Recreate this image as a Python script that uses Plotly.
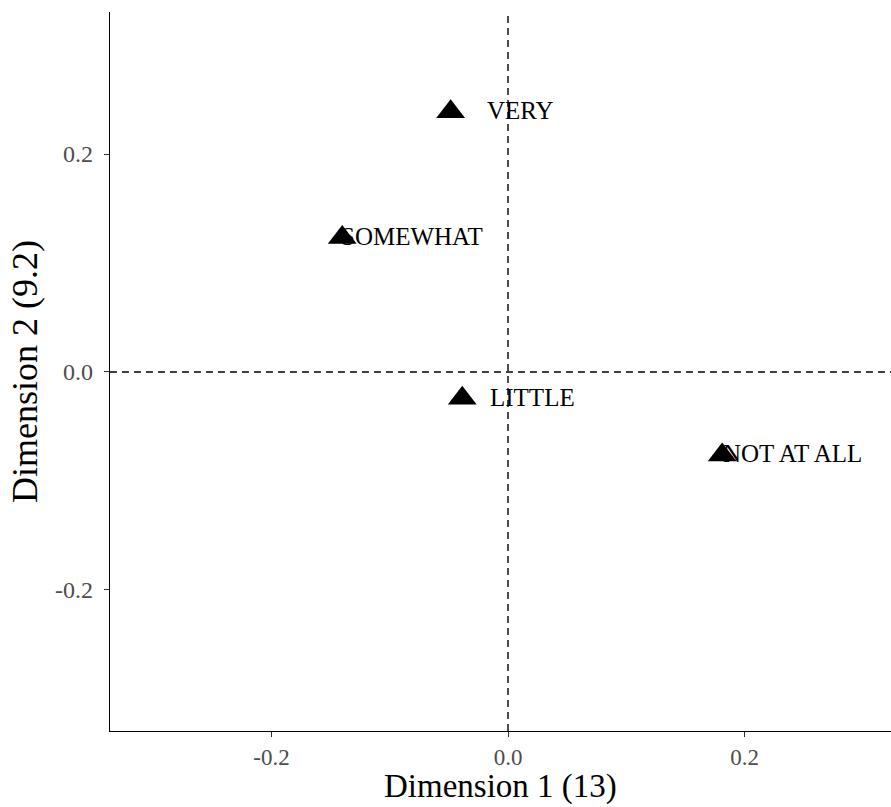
import plotly.graph_objects as go

# Category coordinates on the first two dimensions
categories = ["VERY", "SOMEWHAT", "LITTLE", "NOT AT ALL"]
dim1 = [-0.0485, -0.1402, -0.0387, 0.1811]
dim2 = [0.2387, 0.1233, -0.0240, -0.0761]

x_ticks = [-0.2, 0.0, 0.2]
y_ticks = [-0.2, 0.0, 0.2]
x_ticktext = ["-0.2", "0.0", "0.2"]
y_ticktext = ["-0.2", "0.0", "0.2"]
x_title = "Dimension 1 (13)"
y_title = "Dimension 2 (9.2)"

FONT = "Liberation Serif"

fig = go.Figure()

fig.add_trace(go.Scatter(
    x=dim1, y=dim2, mode="markers",
    marker=dict(symbol="triangle-up", size=25, color="black"),
    hoverinfo="text", text=categories, showlegend=False,
))

# Category labels, offset to the right of each marker
for cx, cy, name in zip(dim1, dim2, categories):
    fig.add_annotation(
        x=cx, y=cy, text=name, showarrow=False,
        xshift=70, yshift=1, xanchor="center", yanchor="middle",
        font=dict(family=FONT, size=25, color="black"),
    )

# Reference lines through the origin
fig.add_hline(y=0, line=dict(color="black", width=1.4, dash="7px,5px"))
fig.add_vline(x=0, line=dict(color="black", width=1.4, dash="7px,5px"))

axis_common = dict(
    showgrid=False, zeroline=False,
    showline=True, linecolor="black", linewidth=1.3,
    ticks="outside", ticklen=5, tickwidth=1, tickcolor="#333333",
    tickfont=dict(family=FONT, size=24, color="#4D4D4D"),
)

fig.update_xaxes(
    range=[-0.3366, 0.3239], tickvals=x_ticks, ticktext=x_ticktext,
    ticklabelstandoff=0, tickfont=dict(family=FONT, size=23, color="#4D4D4D"),
    **{k: v for k, v in axis_common.items() if k != "tickfont"},
)
fig.update_yaxes(
    range=[-0.3294, 0.3303], tickvals=y_ticks, ticktext=y_ticktext,
    title=dict(text=y_title, font=dict(family=FONT, size=36, color="black"), standoff=6),
    ticklabelstandoff=6,
    **axis_common,
)

# Horizontal axis title placed below the tick labels, flush with the bottom
fig.add_annotation(
    xref="paper", yref="paper", x=0.5, y=0,
    xanchor="center", yanchor="bottom", yshift=-75, borderpad=0,
    text=x_title, showarrow=False,
    font=dict(family=FONT, size=33, color="black"),
)

fig.update_layout(
    width=891, height=807, autosize=False,
    margin=dict(l=110, r=0, t=12, b=76),
    paper_bgcolor="white", plot_bgcolor="white",
)

fig.write_html("out.html")
